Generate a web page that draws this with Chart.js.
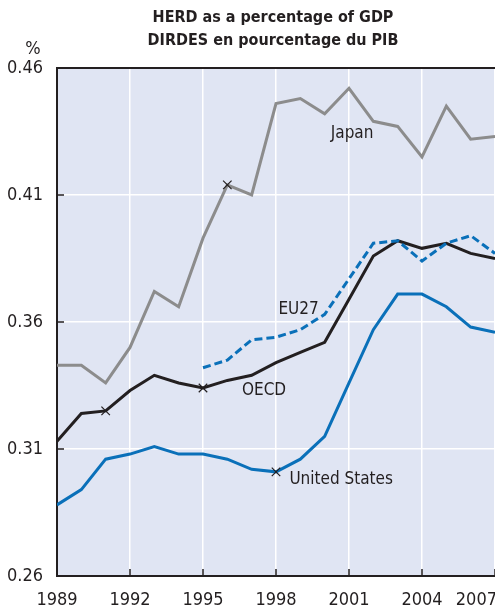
<!DOCTYPE html>
<html>
<head>
<meta charset="utf-8">
<script src="https://cdn.jsdelivr.net/npm/chart.js@4/dist/chart.umd.min.js"></script>
<style>
  html, body { margin: 0; padding: 0; background: #fff; }
  #wrap { width: 495px; height: 609px; }
</style>
</head>
<body>
<div id="wrap"><canvas id="herdChart"></canvas></div>
<script>
(() => {
  'use strict';

  const FONT = "'Liberation Sans Narrow', 'DejaVu Sans Condensed', 'Arial Narrow', sans-serif";
  const INK = '#231f20';

  const years = [1989, 1990, 1991, 1992, 1993, 1994, 1995, 1996, 1997, 1998, 1999, 2000, 2001, 2002, 2003, 2004, 2005, 2006, 2007];
  const japan = [0.343, 0.343, 0.336, 0.350, 0.372, 0.366, 0.393, 0.414, 0.410, 0.446, 0.448, 0.442, 0.452, 0.439, 0.437, 0.425, 0.445, 0.432, 0.433];
  const eu27 = [null, null, null, null, null, null, 0.342, 0.345, 0.353, 0.354, 0.357, 0.363, 0.377, 0.391, 0.392, 0.384, 0.391, 0.394, 0.387];
  const oecd = [0.313, 0.324, 0.325, 0.333, 0.339, 0.336, 0.334, 0.337, 0.339, 0.344, 0.348, 0.352, 0.369, 0.386, 0.392, 0.389, 0.391, 0.387, 0.385];
  const usa = [0.288, 0.294, 0.306, 0.308, 0.311, 0.308, 0.308, 0.306, 0.302, 0.301, 0.306, 0.315, 0.336, 0.357, 0.371, 0.371, 0.366, 0.358, 0.356];
  const yTicks = [0.26, 0.31, 0.36, 0.41, 0.46];
  const xTicks = [1989, 1992, 1995, 1998, 2001, 2004, 2007];

  // years carrying a cross marker on each line
  const japanMarks = [1996];
  const oecdMarks = [1991, 1995];
  const usaMarks = [1998];

  const seriesLabels = [
    { text: 'Japan', x: 2000.25, y: 0.4324 },
    { text: 'EU27', x: 1998.1, y: 0.363 },
    { text: 'OECD', x: 1996.6, y: 0.3311 },
    { text: 'United States', x: 1998.55, y: 0.2962 }
  ];

  const toPoints = vals => years.map((yr, i) => ({ x: yr, y: vals[i] }));
  const markRadius = marks => years.map(yr => (marks.includes(yr) ? 6 : 0));

  const lineSet = (label, vals, color, marks, dash) => ({
    label,
    data: toPoints(vals),
    borderColor: color,
    borderWidth: 3,
    borderDash: dash || [],
    pointStyle: 'crossRot',
    pointRadius: markRadius(marks),
    pointHoverRadius: 0,
    pointBorderColor: INK,
    pointBorderWidth: 1.2,
    tension: 0,
    spanGaps: false
  });

  const frame = {
    id: 'frame',
    beforeDraw(chart) {
      const { ctx, chartArea: a } = chart;
      ctx.save();
      ctx.fillStyle = '#e0e5f3';
      ctx.fillRect(a.left, a.top, a.right - a.left, a.bottom - a.top);
      ctx.restore();
    },
    beforeDatasetsDraw(chart) {
      const { ctx, chartArea: a, scales } = chart;
      ctx.save();
      ctx.strokeStyle = INK;
      ctx.lineWidth = 1.5;
      yTicks.slice(1, -1).forEach(v => {
        const y = scales.y.getPixelForValue(v);
        ctx.beginPath(); ctx.moveTo(a.left, y); ctx.lineTo(a.left + 7, y); ctx.stroke();
      });
      xTicks.slice(1).forEach(v => {
        const x = scales.x.getPixelForValue(v);
        ctx.beginPath(); ctx.moveTo(x, a.bottom); ctx.lineTo(x, a.bottom - 7); ctx.stroke();
      });
      ctx.restore();
    },
    afterDraw(chart) {
      const { ctx, chartArea: a, scales, width } = chart;
      ctx.save();
      // top border
      ctx.strokeStyle = INK;
      ctx.lineWidth = 2;
      ctx.beginPath(); ctx.moveTo(a.left, a.top); ctx.lineTo(a.right, a.top); ctx.stroke();

      ctx.fillStyle = INK;
      ctx.font = 'bold 16px ' + FONT;
      ctx.textAlign = 'center';
      ctx.textBaseline = 'alphabetic';
      ctx.fillText('HERD as a percentage of GDP', 273, 22);
      ctx.fillText('DIRDES en pourcentage du PIB', 273, 45);

      ctx.font = '18px ' + FONT;
      ctx.fillText('%', 33, 54);

      // x tick labels, last one kept inside the canvas
      ctx.font = '18px ' + FONT;
      xTicks.forEach(v => {
        let x = scales.x.getPixelForValue(v);
        const w = ctx.measureText(String(v)).width;
        if (x + w / 2 > width + 2) x = width + 2 - w / 2;
        ctx.fillText(String(v), x, a.bottom + 29);
      });

      ctx.font = '17px ' + FONT;
      ctx.textAlign = 'left';
      seriesLabels.forEach(l => {
        ctx.fillText(l.text, scales.x.getPixelForValue(l.x), scales.y.getPixelForValue(l.y));
      });
      ctx.restore();
    }
  };

  new Chart(document.getElementById('herdChart'), {
    type: 'line',
    data: {
      datasets: [
        lineSet('Japan', japan, '#8c8c8c', japanMarks),
        lineSet('EU27', eu27, '#0a70b9', [], [8, 4]),
        lineSet('OECD', oecd, INK, oecdMarks),
        lineSet('United States', usa, '#0a70b9', usaMarks)
      ]
    },
    options: {
      responsive: true,
      maintainAspectRatio: false,
      animation: false,
      layout: { padding: { left: 0, right: 0, top: 68, bottom: 0 } },
      plugins: { legend: { display: false }, tooltip: { enabled: false }, title: { display: false } },
      scales: {
        x: {
          type: 'linear',
          min: 1989,
          max: 2007,
          afterBuildTicks: scale => { scale.ticks = xTicks.map(v => ({ value: v })); },
          afterFit: scale => { scale.height = 33; scale.paddingLeft = 0; scale.paddingRight = 0; },
          ticks: { display: false },
          grid: { color: '#ffffff', lineWidth: 1.5, drawTicks: false },
          border: { display: true, color: INK, width: 2 }
        },
        y: {
          min: 0.26,
          max: 0.46,
          afterBuildTicks: scale => { scale.ticks = yTicks.map(v => ({ value: v })); },
          afterFit: scale => { scale.width = 57; },
          ticks: {
            color: INK,
            font: { family: FONT, size: 18 },
            padding: 14,
            callback: v => v.toFixed(2)
          },
          grid: { color: '#ffffff', lineWidth: 1.5, drawTicks: false },
          border: { display: true, color: INK, width: 2 }
        }
      }
    },
    plugins: [frame]
  });
})();
</script>
</body>
</html>
